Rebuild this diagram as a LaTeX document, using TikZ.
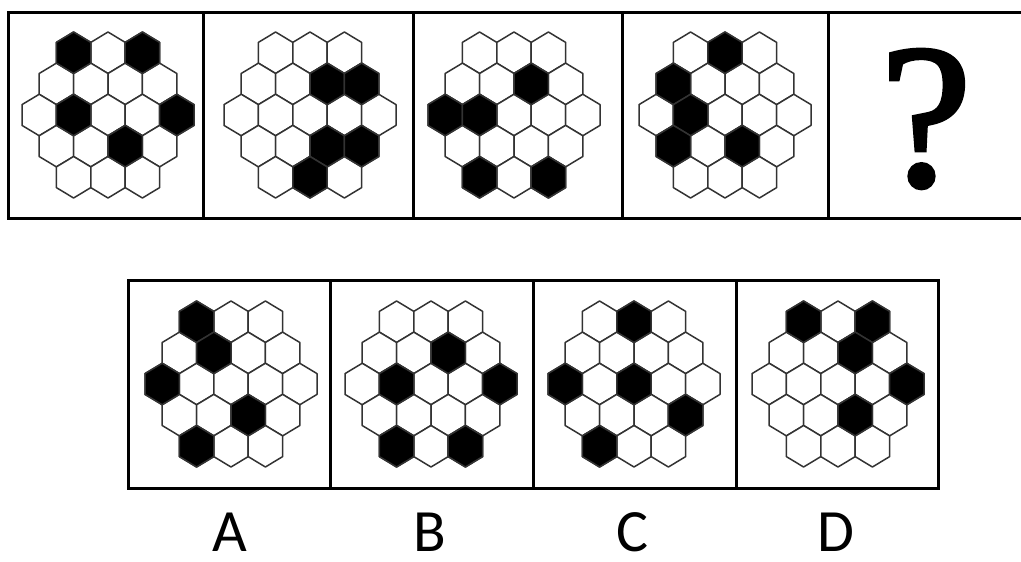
\documentclass[tikz,border=0pt]{standalone}
\usepackage{fontspec}
\newfontfamily\labelfont{Carlito}
\newfontfamily\markfont[FakeBold=2]{Liberation Serif}
\def\hexw{17.2}  % half width of a cell
\def\hexr{20.75} % centre to top vertex
\tikzset{
  hexcell/.style={draw=black!80,line width=1.5pt,fill=white,line join=round},
  hexdark/.style={hexcell,fill=black},
  panel/.style={line width=3pt,line join=miter},
  optlabel/.style={font=\labelfont\fontsize{60}{60}\selectfont,inner sep=0pt}
}
\newcommand{\hexpath}{++(0,-\hexr) -- ++(\hexw,\hexr/2) -- ++(0,\hexr) -- ++(-\hexw,\hexr/2) -- ++(-\hexw,-\hexr/2) -- ++(0,-\hexr) -- cycle}
% #1,#2 centre of the grid, #3 dark cells as row/column
\newcommand{\hexpanel}[3]{%
  \foreach \r/\n in {0/3,1/4,2/5,3/4,4/3}
    \foreach \c in {1,...,\n}
      \draw[hexcell] ({#1+(2*\c-\n-1)*\hexw},{#2+(\r-2)*1.5*\hexr}) \hexpath;
  \foreach \r/\c in {#3}{
    \pgfmathtruncatemacro{\n}{5-abs(\r-2)}
    \draw[hexdark] ({#1+(2*\c-\n-1)*\hexw},{#2+(\r-2)*1.5*\hexr}) \hexpath;
  }
}

\begin{document}
\begin{tikzpicture}[x=1pt,y=-1pt]
  \useasboundingbox (0,0) rectangle (1021,562);
  % question row
  \draw[panel] (1021,12) -- (8,12) -- (8,218) -- (1021,218);
  \foreach \x in {203,413,622,828}
    \draw[panel] (\x,12) -- (\x,218);
  \hexpanel{108}{115}{0/1,0/3,2/2,2/5,3/3}
  \hexpanel{310}{115}{1/3,1/4,3/3,3/4,4/2}
  \hexpanel{514}{115}{1/3,2/1,2/2,4/1,4/3}
  \hexpanel{725}{115}{0/2,1/1,2/2,3/1,3/3}
  \node[font=\markfont\fontsize{205}{205}\selectfont,inner sep=0pt] (qmark) at (926,119) {?};
  % answer row
  \draw[panel] (128,280) rectangle (938,488);
  \foreach \x in {330,533,736}
    \draw[panel] (\x,280) -- (\x,488);
  \hexpanel{231}{384}{0/1,1/2,2/1,3/3,4/1}
  \hexpanel{431}{384}{1/3,2/2,2/5,4/1,4/3}
  \hexpanel{634}{384}{0/2,2/1,2/3,3/4,4/1}
  \hexpanel{838}{384}{0/1,0/3,1/3,2/5,3/3}
  \node[optlabel] (labA) at (230,532) {A};
  \node[optlabel] (labB) at (430,532) {B};
  \node[optlabel] (labC) at (632,532) {C};
  \node[optlabel] (labD) at (836,532) {D};
\end{tikzpicture}
\end{document}
